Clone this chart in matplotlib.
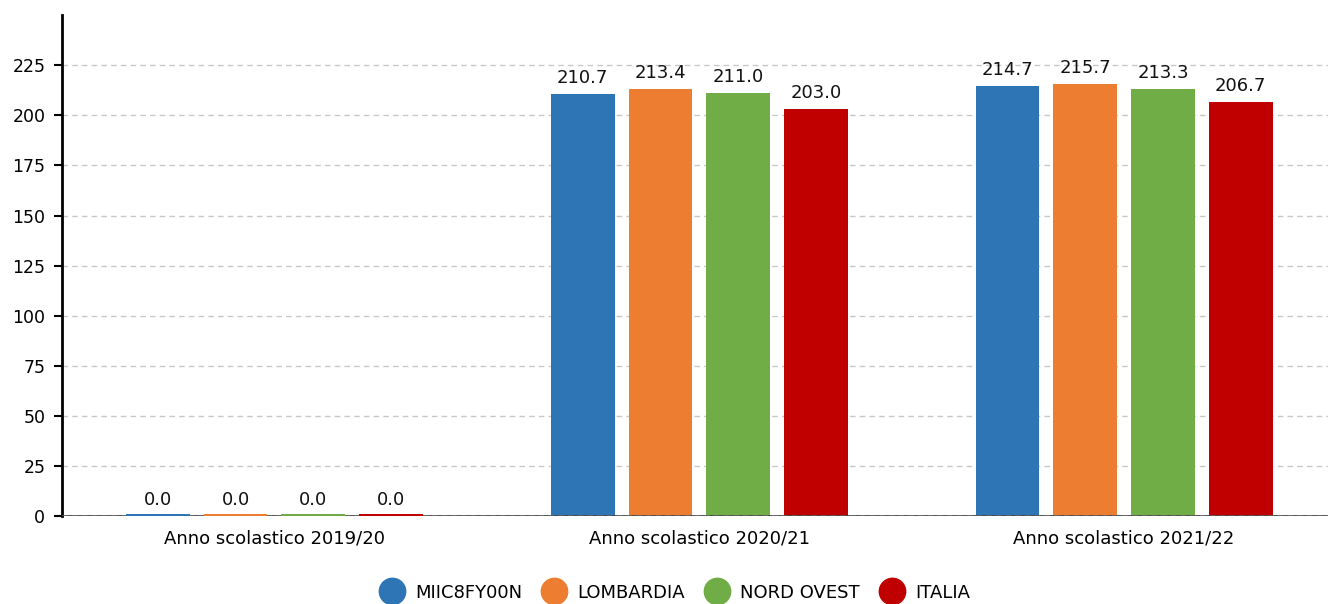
import matplotlib
import matplotlib.pyplot as plt
import numpy as np
from matplotlib.lines import Line2D

matplotlib.use('Agg')
plt.rcParams['font.family'] = ['DejaVu Sans']

categories = ['Anno scolastico 2019/20', 'Anno scolastico 2020/21', 'Anno scolastico 2021/22']
series = ['MIIC8FY00N', 'LOMBARDIA', 'NORD OVEST', 'ITALIA']
colors = ['#2e75b6', '#ed7d31', '#70ad47', '#c00000']
values = [
    [0.0, 210.7, 214.7],
    [0.0, 213.4, 215.7],
    [0.0, 211.0, 213.3],
    [0.0, 203.0, 206.7],
]

fig = plt.figure(figsize=(13.28, 6.04), dpi=100)
ax = fig.add_axes([0.0467, 0.1457, 0.9533, 0.829])

x = np.arange(len(categories))
width = 0.15
pitch = 0.183
for i, (name, vals, c) in enumerate(zip(series, values, colors)):
    pos = x + (i - 1.5) * pitch
    ax.bar(pos, vals, width, color=c, zorder=3)
    # zero values still show as a thin strip on the baseline
    zero = [p for p, v in zip(pos, vals) if v == 0]
    ax.bar(zero, [0.8] * len(zero), width, color=c, zorder=7)
    for p, v in zip(pos, vals):
        ax.text(p, v + 3.5, f'{v:.1f}', ha='center', va='bottom', fontsize=13, color='#111111', zorder=4)

ax.set_xlim(-0.5, 2.48)
ax.set_ylim(0, 250)
ax.set_yticks(range(0, 226, 25))
ax.set_xticks(x)
ax.set_xticklabels(categories, fontsize=13)
ax.tick_params(axis='y', labelsize=12.5, length=6, width=1.5, pad=6)
ax.tick_params(axis='x', length=0, pad=10)
ax.grid(axis='y', linestyle=(0, (4, 3)), color='#c8c8c8', linewidth=1, zorder=0)
ax.axhline(0, color='#444444', linewidth=2, zorder=5)
ax.axhline(0, color='#bbbbbb', linewidth=1, linestyle=(0, (4, 3)), zorder=6)

for s in ['top', 'right', 'bottom']:
    ax.spines[s].set_visible(False)
ax.spines['left'].set_linewidth(2)

handles = [Line2D([], [], marker='o', linestyle='', markersize=19, color=c) for c in colors]
fig.legend(handles, series, loc='center', bbox_to_anchor=(0.506, 0.019), ncol=4, frameon=False,
           fontsize=13, handletextpad=0.3, columnspacing=0.75)

fig.savefig('out.png', dpi=100)
